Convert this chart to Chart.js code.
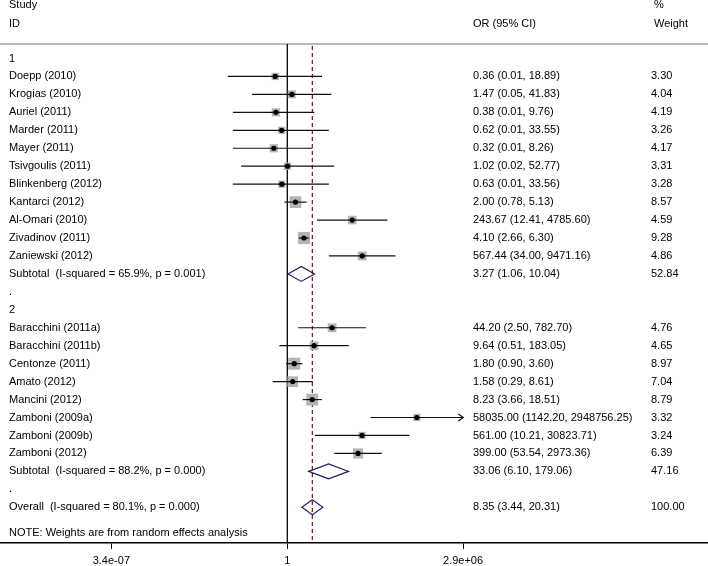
<!DOCTYPE html>
<html>
<head>
<meta charset="utf-8">
<script src="https://cdn.jsdelivr.net/npm/chart.js@4.4.1/dist/chart.umd.min.js"></script>
<style>
  html, body { margin: 0; padding: 0; background: #ffffff; }
  #wrap { width: 708px; height: 566px; position: relative; }
</style>
</head>
<body>
<div id="wrap"><canvas id="c" width="708" height="566"></canvas></div>
<script>
// ---------------- DATA ----------------
const groupNames = ['1', '2'];

const group1Studies = ['Doepp (2010)', 'Krogias (2010)', 'Auriel (2011)', 'Marder (2011)', 'Mayer (2011)',
  'Tsivgoulis (2011)', 'Blinkenberg (2012)', 'Kantarci (2012)', 'Al-Omari (2010)', 'Zivadinov (2011)', 'Zaniewski (2012)'];
const group1OR     = [0.36, 1.47, 0.38, 0.62, 0.32, 1.02, 0.63, 2.00, 243.67, 4.10, 567.44];
const group1Lower  = [0.0065, 0.05, 0.01, 0.01, 0.01, 0.02, 0.01, 0.78, 12.41, 2.66, 34.00];
const group1Upper  = [18.89, 41.83, 9.76, 33.55, 8.26, 52.77, 33.56, 5.13, 4785.60, 6.30, 9471.16];
const group1Weight = [3.30, 4.04, 4.19, 3.26, 4.17, 3.31, 3.28, 8.57, 4.59, 9.28, 4.86];

const group2Studies = ['Baracchini (2011a)', 'Baracchini (2011b)', 'Centonze (2011)', 'Amato (2012)', 'Mancini (2012)',
  'Zamboni (2009a)', 'Zamboni (2009b)', 'Zamboni (2012)'];
const group2OR     = [44.20, 9.64, 1.80, 1.58, 8.23, 58035.00, 561.00, 399.00];
const group2Lower  = [2.50, 0.51, 0.90, 0.29, 3.66, 1142.20, 10.21, 53.54];
const group2Upper  = [782.70, 183.05, 3.60, 8.61, 18.51, 2948756.25, 30823.71, 2973.36];
const group2Weight = [4.76, 4.65, 8.97, 7.04, 8.79, 3.32, 3.24, 6.39];

const subtotalLabels = ['Subtotal  (I-squared = 65.9%, p = 0.001)', 'Subtotal  (I-squared = 88.2%, p = 0.000)'];
const subtotalOR     = [3.27, 33.06];
const subtotalLower  = [1.06, 6.10];
const subtotalUpper  = [10.04, 179.06];
const subtotalWeight = [52.84, 47.16];

const overallLabel  = 'Overall  (I-squared = 80.1%, p = 0.000)';
const overallOR     = 8.35;
const overallLower  = 3.44;
const overallUpper  = 20.31;
const overallWeight = 100.00;

const noteText = 'NOTE: Weights are from random effects analysis';
const headerStudy = ['Study', 'ID'];
const headerEffect = 'OR (95% CI)';
const headerWeight = ['%', 'Weight'];

const tickValues = [3.4e-7, 1, 2.9e6];
const tickLabels = ['3.4e-07', '1', '2.9e+06'];

// ---------------- BUILD ROWS ----------------
const groups = [
  { studies: group1Studies, or: group1OR, lo: group1Lower, hi: group1Upper, w: group1Weight },
  { studies: group2Studies, or: group2OR, lo: group2Lower, hi: group2Upper, w: group2Weight }
];
const rows = [];
let r = 0;
groups.forEach((g, gi) => {
  rows.push({ kind: 'head', label: groupNames[gi], row: r++ });
  g.studies.forEach((s, k) => rows.push({ kind: 'study', label: s, or: g.or[k], lo: g.lo[k], hi: g.hi[k], w: g.w[k], row: r++ }));
  rows.push({ kind: 'pooled', label: subtotalLabels[gi], or: subtotalOR[gi], lo: subtotalLower[gi], hi: subtotalUpper[gi], w: subtotalWeight[gi], row: r++ });
  rows.push({ kind: 'blank', label: '.', row: r++ });
});
rows.push({ kind: 'pooled', label: overallLabel, or: overallOR, lo: overallLower, hi: overallUpper, w: overallWeight, row: r++ });
const noteRow = r + 0.42;
const studyRows = rows.filter(d => d.kind === 'study');
const pooledRows = rows.filter(d => d.kind === 'pooled');

const fmt = v => v.toFixed(2);
const FONT = '11px "Liberation Sans", Arial, sans-serif';
const TEXT = '#000000';

const forestPlugin = {
  id: 'forest',
  beforeDatasetsDraw(chart) {
    const { ctx, chartArea: a, scales: { x } } = chart;
    ctx.save();
    // header rule
    ctx.strokeStyle = '#b8b8b8';
    ctx.lineWidth = 2;
    ctx.beginPath(); ctx.moveTo(0, a.top); ctx.lineTo(chart.width, a.top); ctx.stroke();
    // null line
    const x1 = x.getPixelForValue(1);
    ctx.strokeStyle = '#000000';
    ctx.lineWidth = 1.3;
    ctx.beginPath(); ctx.moveTo(x1, a.top); ctx.lineTo(x1, a.bottom); ctx.stroke();
    // overall dashed line
    const xo = x.getPixelForValue(overallOR);
    ctx.strokeStyle = '#8b1a1a';
    ctx.lineWidth = 1.3;
    ctx.setLineDash([4, 3]);
    ctx.beginPath(); ctx.moveTo(xo, a.top + 2); ctx.lineTo(xo, a.bottom); ctx.stroke();
    ctx.restore();
  },
  afterDatasetDraw(chart, args) {
    if (args.index !== 1) return;
    const { ctx, scales: { x, y } } = chart;
    const limit = tickValues[tickValues.length - 1];
    ctx.save();
    ctx.strokeStyle = '#111111';
    ctx.lineWidth = 1.2;
    studyRows.forEach(d => {
      const yy = y.getPixelForValue(d.row);
      const xl = x.getPixelForValue(d.lo);
      const xh = x.getPixelForValue(d.hi);
      ctx.beginPath(); ctx.moveTo(xl, yy); ctx.lineTo(xh, yy); ctx.stroke();
      if (d.hi >= limit) {
        ctx.beginPath();
        ctx.moveTo(xh - 5, yy - 3.5); ctx.lineTo(xh, yy); ctx.lineTo(xh - 5, yy + 3.5);
        ctx.stroke();
      }
    });
    ctx.restore();
  },
  afterDatasetsDraw(chart) {
    const { ctx, scales: { x, y } } = chart;
    ctx.save();
    ctx.strokeStyle = '#1c1c66';
    ctx.lineWidth = 1.1;
    pooledRows.forEach(d => {
      const yy = y.getPixelForValue(d.row);
      const xl = x.getPixelForValue(d.lo);
      const xc = x.getPixelForValue(d.or);
      const xh = x.getPixelForValue(d.hi);
      const h = 7.5;
      ctx.beginPath();
      ctx.moveTo(xl, yy); ctx.lineTo(xc, yy - h); ctx.lineTo(xh, yy); ctx.lineTo(xc, yy + h); ctx.closePath();
      ctx.stroke();
    });
    ctx.restore();
  },
  afterDraw(chart) {
    const { ctx, scales: { y } } = chart;
    const colLabel = 9, colEffect = 473, colWeight = 651;
    ctx.save();
    ctx.font = FONT;
    ctx.fillStyle = TEXT;
    ctx.textBaseline = 'middle';
    ctx.textAlign = 'left';
    const y0 = y.getPixelForValue(-3), y1 = y.getPixelForValue(-1.95);
    ctx.fillText(headerStudy[0], colLabel, y0);
    ctx.fillText(headerStudy[1], colLabel, y1);
    ctx.fillText(headerEffect, colEffect, y1);
    ctx.fillText(headerWeight[0], colWeight + 3, y0);
    ctx.fillText(headerWeight[1], colWeight + 3, y1);
    rows.forEach(d => {
      const yy = y.getPixelForValue(d.row);
      ctx.fillText(d.label, colLabel, yy);
      if (d.kind === 'study' || d.kind === 'pooled') {
        ctx.fillText(fmt(d.or) + ' (' + fmt(d.lo) + ', ' + fmt(d.hi) + ')', colEffect, yy);
        ctx.fillText(fmt(d.w), colWeight, yy);
      }
    });
    ctx.fillText(noteText, colLabel, y.getPixelForValue(noteRow));
    ctx.restore();
  }
};

const pts = studyRows.map(d => ({ x: d.or, y: d.row }));

new Chart(document.getElementById('c'), {
  type: 'scatter',
  data: {
    datasets: [
      {
        label: 'OR',
        data: pts,
        pointStyle: 'circle',
        pointRadius: 2.6,
        pointHoverRadius: 2.6,
        backgroundColor: '#000000',
        borderWidth: 0
      },
      {
        label: 'Weight',
        data: pts,
        pointStyle: 'rect',
        pointRadius: c => 4.0 * Math.sqrt(studyRows[c.dataIndex].w) / Math.SQRT2,
        backgroundColor: '#b4b4b4',
        borderWidth: 0
      }
    ]
  },
  options: {
    responsive: false,
    animation: false,
    events: [],
    layout: { autoPadding: false, padding: { top: 44, left: 0, right: 0, bottom: 0 } },
    plugins: { legend: { display: false }, tooltip: { enabled: false } },
    scales: {
      x: {
        type: 'logarithmic',
        position: 'bottom',
        min: Math.pow(10, -10.562),
        max: Math.pow(10, 15.467),
        afterBuildTicks: s => { s.ticks = tickValues.map(v => ({ value: v })); },
        afterFit: s => { s.height = 23; },
        ticks: {
          autoSkip: false,
          maxRotation: 0,
          padding: 5,
          color: TEXT,
          font: { family: '"Liberation Sans", Arial, sans-serif', size: 11 },
          callback: (v, i) => tickLabels[i]
        },
        grid: { display: true, drawOnChartArea: false, drawTicks: true, tickLength: 6, color: '#000000', lineWidth: 1 },
        border: { display: true, color: '#000000', width: 1.5 }
      },
      y: {
        type: 'linear',
        display: false,
        reverse: true,
        min: -0.808,
        max: 26.99
      }
    }
  },
  plugins: [forestPlugin]
});
</script>
</body>
</html>
